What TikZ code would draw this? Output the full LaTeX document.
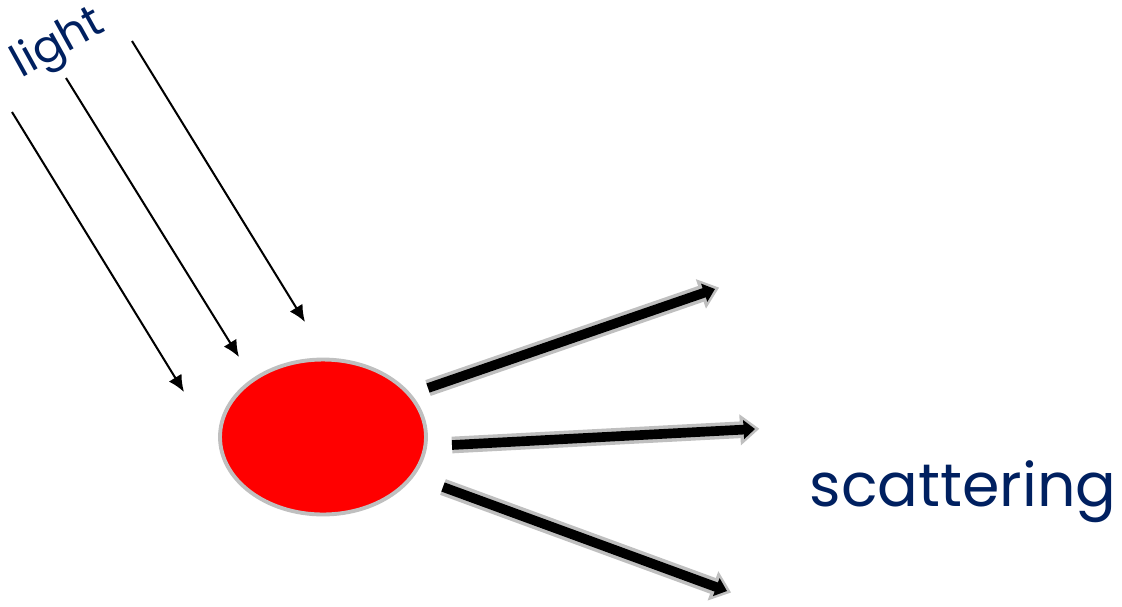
\documentclass[tikz,border=0pt]{standalone}
\usepackage{fontspec}
\newfontfamily\labelfont{Poppins}
\usetikzlibrary{arrows.meta,shapes.geometric}
\definecolor{navy}{RGB}{0,32,96}
\definecolor{rim}{RGB}{191,191,191}

\begin{document}
\begin{tikzpicture}[x=0.02cm,y=-0.02cm,
  ray/.style={-{Latex[length=9.5pt,width=8.5pt]},line width=1.15pt},
  rayrim/.style={-{Triangle[length=11pt,width=17pt]},line width=9.5pt,rim,shorten >=-2.5pt},
  raycore/.style={-{Triangle[length=6.5pt,width=10.5pt]},line width=5.5pt,black},
  word/.style={text=navy,font=\labelfont}]
\useasboundingbox (0,0) rectangle (1122,606);

% particle
\node[ellipse,draw=rim,line width=2.2pt,fill=red,
  minimum width=4.12cm,minimum height=3.1cm] (particle) at (323,437) {};

% incoming light
\coordinate (in1) at (12,112);   \coordinate (hit1) at (184,392);
\coordinate (in2) at (66,78);    \coordinate (hit2) at (239,357);
\coordinate (in3) at (132,41);   \coordinate (hit3) at (305,322);
\foreach \i in {1,2,3}
  \draw[ray] (in\i) -- (hit\i);
\node[word,font=\labelfont\fontsize{25.5}{25.5}\selectfont,rotate=29] (light) at (59,45) {light};

% scattered light
\coordinate (out1) at (428,388); \coordinate (end1) at (715,289);
\coordinate (out2) at (452,445); \coordinate (end2) at (755,429);
\coordinate (out3) at (443,487); \coordinate (end3) at (727,591);
\foreach \i in {1,2,3}{
  \draw[rayrim] (out\i) -- (end\i);
  \draw[raycore] (out\i) -- (end\i);
}
\node[word,font=\labelfont\fontsize{34.3}{34.3}\selectfont] (scatter) at (963,492) {scattering};
\end{tikzpicture}
\end{document}
